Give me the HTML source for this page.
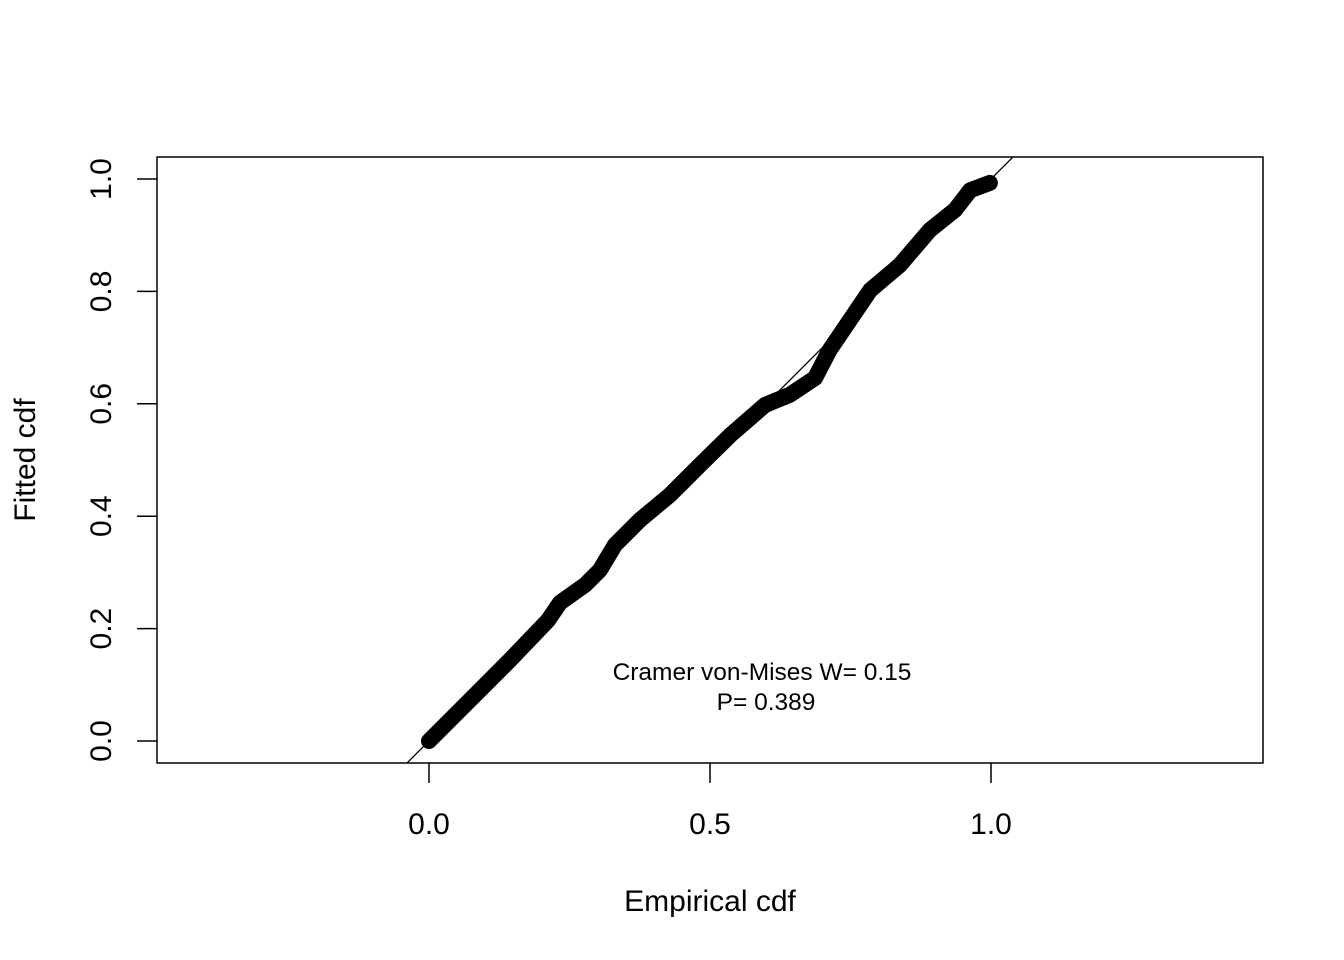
<!DOCTYPE html>
<html><head><meta charset="utf-8"><style>
body{margin:0;background:#fff}
svg{display:block;font-family:"Liberation Sans",Arial,sans-serif}
</style></head><body>
<svg id="chart" width="1344" height="960" viewBox="0 0 1344 960">
<defs><clipPath id="clip"><rect x="157" y="157" width="1106" height="606"/></clipPath></defs>
<rect x="157" y="157" width="1106" height="606" fill="none" stroke="#000" stroke-width="1.5"/>
<g id="xticks"></g>
<g id="yticks"></g>
<line id="refline" stroke="#000" stroke-width="1.3" clip-path="url(#clip)"/>
<g id="series"></g>
<text x="762" y="680" font-size="24.5" text-anchor="middle">Cramer von-Mises W= 0.15</text>
<text x="766" y="710" font-size="24.5" text-anchor="middle">P= 0.389</text>
<text x="710" y="911" font-size="30" text-anchor="middle">Empirical cdf</text>
<text transform="translate(35,460) rotate(-90)" font-size="30" text-anchor="middle">Fitted cdf</text>
</svg>
<script>
const xTicks=[0,0.5,1.0];
const xTickLabels=["0.0","0.5","1.0"];
const yTicks=[0,0.2,0.4,0.6,0.8,1.0];
const yTickLabels=["0.0","0.2","0.4","0.6","0.8","1.0"];
const empirical=[0,0.073,0.144,0.212,0.233,0.278,0.304,0.331,0.375,0.429,0.482,0.536,0.598,0.642,0.687,0.713,0.749,0.785,0.838,0.891,0.936,0.963,0.998];
const fitted=[0,0.073,0.144,0.215,0.246,0.278,0.304,0.349,0.393,0.438,0.491,0.544,0.598,0.616,0.646,0.696,0.749,0.802,0.847,0.909,0.945,0.98,0.993];
const X=v=>429+v*562, Y=v=>741-v*562;
const NS="http://www.w3.org/2000/svg";
function mk(t,a,p){const e=document.createElementNS(NS,t);for(const k in a)e.setAttribute(k,a[k]);p.appendChild(e);return e;}
const xg=document.getElementById('xticks'), yg=document.getElementById('yticks');
xTicks.forEach((v,i)=>{
 const l=mk('line',{x1:X(v),x2:X(v),y1:763,y2:783,stroke:'#000','stroke-width':1.5},xg);
 
 
 const t=mk('text',{x:X(v),y:834,'font-size':30,'text-anchor':'middle'},xg);t.textContent=xTickLabels[i];
 
 
});
yTicks.forEach((v,i)=>{
 const l=mk('line',{x1:137,x2:157,y1:Y(v),y2:Y(v),stroke:'#000','stroke-width':1.5},yg);
 
 
 const t=mk('text',{transform:`translate(111,${Y(v)}) rotate(-90)`,'font-size':30,'text-anchor':'middle'},yg);t.textContent=yTickLabels[i];
 
 
});
const rl=document.getElementById('refline');
rl.setAttribute('x1',X(-0.1));rl.setAttribute('y1',Y(-0.1));rl.setAttribute('x2',X(1.1));rl.setAttribute('y2',Y(1.1));
const sg=document.getElementById('series');
const p=mk('polyline',{points:empirical.map((v,i)=>X(v)+','+Y(fitted[i])).join(' '),fill:'none',stroke:'#000','stroke-width':16,'stroke-linejoin':'round','stroke-linecap':'round'},sg);


</script>
</body></html>
